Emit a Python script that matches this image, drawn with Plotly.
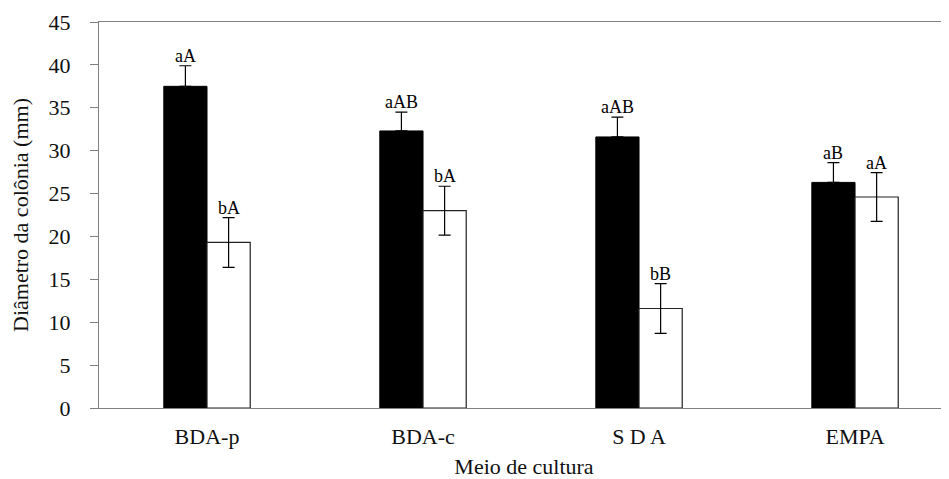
import plotly.graph_objects as go

categories = ["BDA-p", "BDA-c", "S D A", "EMPA"]
black_values = [37.5, 32.3, 31.6, 26.3]
black_err = [2.4, 2.2, 2.3, 2.3]
white_values = [19.3, 23.0, 11.6, 24.6]
white_err = [2.9, 2.85, 2.9, 2.85]
black_labels = ["aA", "aAB", "aAB", "aB"]
white_labels = ["bA", "bA", "bB", "aA"]
y_ticks = [0, 5, 10, 15, 20, 25, 30, 35, 40, 45]

font_family = "Times New Roman, Liberation Serif, serif"
xpos = list(range(len(categories)))

fig = go.Figure()
fig.add_trace(go.Bar(
    x=xpos, y=black_values, name="black",
    marker=dict(color="black", line=dict(color="black", width=1)),
    error_y=dict(type="data", array=black_err, arrayminus=[0]*len(black_err),
                 symmetric=False, color="black", thickness=1.2, width=6),
))
fig.add_trace(go.Bar(
    x=xpos, y=white_values, name="white",
    marker=dict(color="white", line=dict(color="#222222", width=1.2)),
    error_y=dict(type="data", array=white_err, color="black", thickness=1.2, width=6),
))

annotations = []
for i in xpos:
    annotations.append(dict(x=i - 0.1, y=black_values[i] + black_err[i], text=black_labels[i],
                            xref="x", yref="y", showarrow=False, yanchor="bottom", yshift=-2,
                            font=dict(family=font_family, size=18, color="black")))
    annotations.append(dict(x=i + 0.1, y=white_values[i] + white_err[i], text=white_labels[i],
                            xref="x", yref="y", showarrow=False, yanchor="bottom", yshift=-2,
                            font=dict(family=font_family, size=18, color="black")))

fig.update_layout(
    width=941, height=471,
    margin=dict(l=91, r=0, t=14, b=71, autoexpand=False),
    paper_bgcolor="white", plot_bgcolor="white",
    barmode="group", bargap=0.6, bargroupgap=0,
    showlegend=False,
    font=dict(family=font_family, size=22, color="#111111"),
    annotations=annotations,
    xaxis=dict(
        range=[-0.5, 3.435], tickvals=xpos, ticktext=categories,
        showline=True, linecolor="#808080", linewidth=1, mirror=True,
        ticks="", showgrid=False, zeroline=False, automargin=False,
        ticklabelstandoff=9,
        tickfont=dict(family=font_family, size=22),
        title=dict(text="Meio de cultura", font=dict(family=font_family, size=22), standoff=11),
    ),
    yaxis=dict(
        range=[0, 45], tickvals=y_ticks,
        showline=True, linecolor="#808080", linewidth=1,
        ticks="outside", ticklen=8, tickcolor="#808080",
        showgrid=False, zeroline=False, automargin=False,
        ticklabelstandoff=15,
        tickfont=dict(family=font_family, size=22),
        title=dict(text="Diâmetro da colônia (mm)", font=dict(family=font_family, size=22), standoff=14),
    ),
)

fig.write_html("out.html")
